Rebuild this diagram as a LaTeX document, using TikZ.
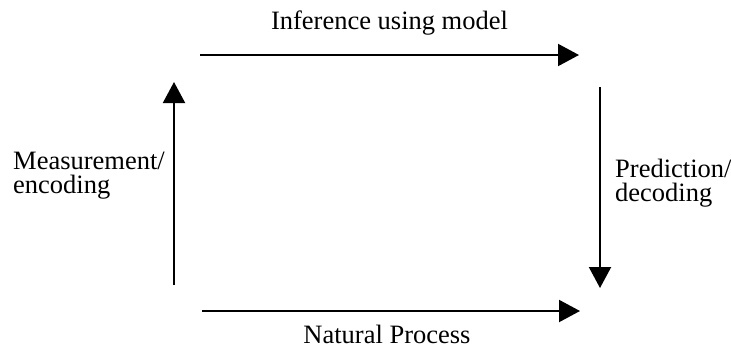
\documentclass[tikz,border=0pt]{standalone}
\usepackage{fontspec}
\setmainfont{Liberation Serif}
\usetikzlibrary{arrows.meta}
\begin{document}
\begin{tikzpicture}[x=1pt,y=-1pt,
  flow/.style={line width=2pt,-{Triangle[length=21pt,width=22pt]}},
  lbl/.style={inner sep=0pt,font=\fontsize{26.5}{24.5}\selectfont,align=left}]
\useasboundingbox (0,0) rectangle (731,349);
\coordinate (t1) at (200,55);
\coordinate (t2) at (579,55);
\coordinate (l1) at (174,285);
\coordinate (l2) at (174,82);
\coordinate (r1) at (600,87);
\coordinate (r2) at (600,288);
\coordinate (b1) at (202,311);
\coordinate (b2) at (580,311);
\draw[flow] (t1) -- (t2);
\draw[flow] (l1) -- (l2);
\draw[flow] (r1) -- (r2);
\draw[flow] (b1) -- (b2);
\node[lbl,anchor=base] (inf) at (389.5,29) {Inference using model};
\node[lbl,anchor=base] (nat) at (387,343) {Natural Process};
\node[lbl,anchor=base west] (meas) at (13,193.5) {Measurement/\\encoding};
\node[lbl,anchor=base west] (pred) at (615,201.5) {Prediction/\\decoding};
\end{tikzpicture}
\end{document}
